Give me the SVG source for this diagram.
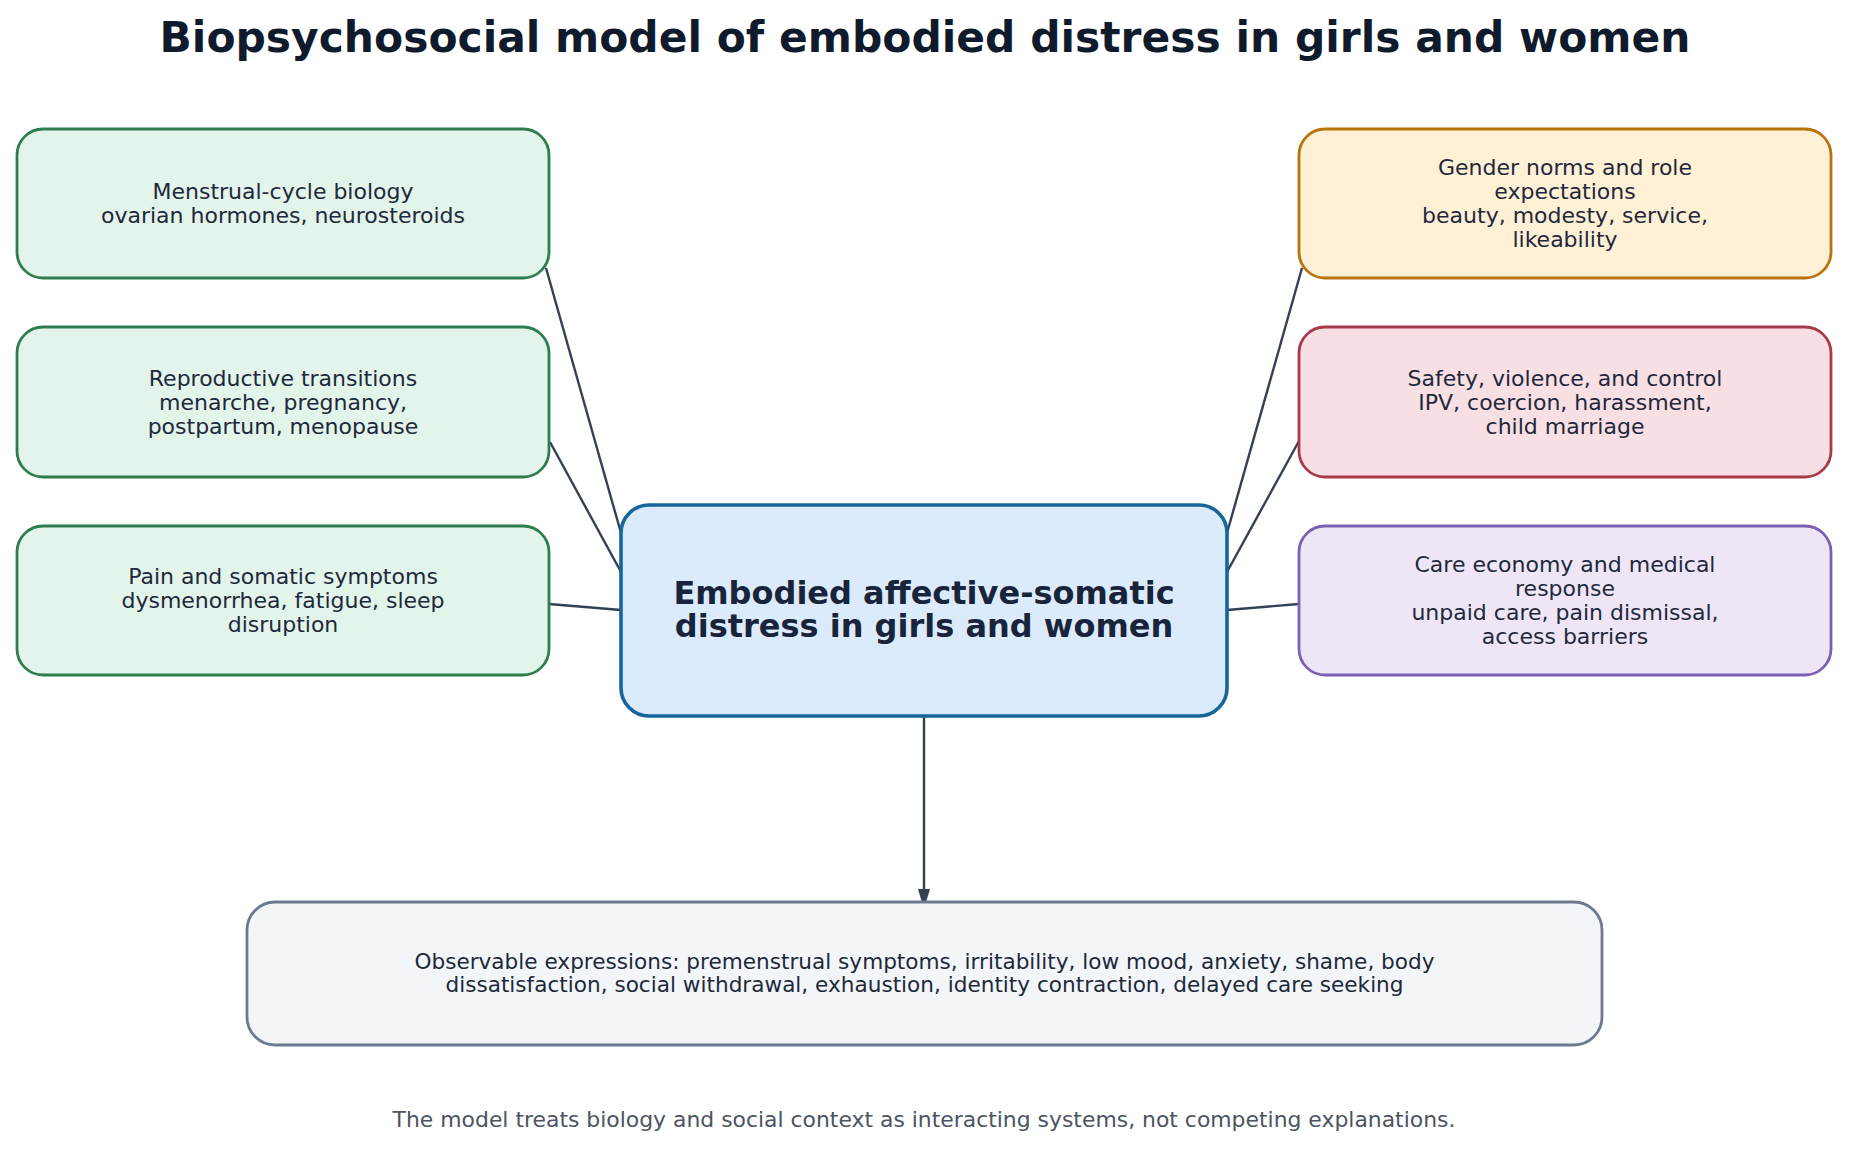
<svg xmlns="http://www.w3.org/2000/svg" width="1856" height="1155" viewBox="0 0 1856 1155">
<style>
text{font-family:"DejaVu Sans","Liberation Sans",sans-serif;text-anchor:middle;fill:#1e293b}
.title{font-size:42.4px;font-weight:bold;fill:#0f1b2d}
.t{font-size:22px}
.bt{font-size:21.6px}
.ct{font-size:32px;font-weight:bold;fill:#17243a}
.foot{font-size:21.9px;fill:#4b5563}
.bio{fill:#e3f4ea;stroke:#2e7d4f;stroke-width:2.8}
.gen{fill:#fff0d6;stroke:#b8730a;stroke-width:2.8}
.saf{fill:#f8dfe3;stroke:#a8394b;stroke-width:2.8}
.car{fill:#eee6f7;stroke:#7b5fb0;stroke-width:2.8}
.cen{fill:#dcebfb;stroke:#17659a;stroke-width:3.6}
.obs{fill:#f3f6f9;stroke:#6b7a8f;stroke-width:2.8}
.ln{stroke:#334155;stroke-width:2.4;fill:none}
</style>
<defs>
<marker id="ah" viewBox="0 0 10 10" refX="10" refY="5" markerWidth="5" markerHeight="5.5" orient="auto" markerUnits="strokeWidth">
<path d="M0,0 L10,3 L10,7 L0,10 z" fill="#334155"/>
</marker>
</defs>
<rect width="1856" height="1155" fill="#ffffff"/>
<text class="title" x="925" y="52">Biopsychosocial model of embodied distress in girls and women</text>

<g id="connectors">
<line class="ln" x1="546" y1="268" x2="621" y2="533"/>
<line class="ln" x1="550" y1="442" x2="621" y2="572"/>
<line class="ln" x1="549" y1="604" x2="621" y2="610"/>
<line class="ln" x1="1302" y1="268" x2="1227" y2="533"/>
<line class="ln" x1="1299" y1="441" x2="1227" y2="572"/>
<line class="ln" x1="1299" y1="604" x2="1227" y2="610"/>
<line class="ln" x1="924" y1="717" x2="924" y2="901" marker-end="url(#ah)"/>
</g>

<g id="n-menstrual">
<rect class="bio" x="17" y="129" width="532" height="149" rx="26"/>
<text class="t" x="283" y="198.5">Menstrual-cycle biology</text>
<text class="t" x="283" y="222.5">ovarian hormones, neurosteroids</text>
</g>
<g id="n-reproductive">
<rect class="bio" x="17" y="327" width="532" height="150" rx="26"/>
<text class="t" x="283" y="385.5">Reproductive transitions</text>
<text class="t" x="283" y="409.5">menarche, pregnancy,</text>
<text class="t" x="283" y="433.5">postpartum, menopause</text>
</g>
<g id="n-pain">
<rect class="bio" x="17" y="526" width="532" height="149" rx="26"/>
<text class="t" x="283" y="584">Pain and somatic symptoms</text>
<text class="t" x="283" y="608">dysmenorrhea, fatigue, sleep</text>
<text class="t" x="283" y="632">disruption</text>
</g>

<g id="n-gender">
<rect class="gen" x="1299" y="129" width="532" height="149" rx="26"/>
<text class="t" x="1565" y="174.5">Gender norms and role</text>
<text class="t" x="1565" y="198.5">expectations</text>
<text class="t" x="1565" y="222.5">beauty, modesty, service,</text>
<text class="t" x="1565" y="246.5">likeability</text>
</g>
<g id="n-safety">
<rect class="saf" x="1299" y="327" width="532" height="150" rx="26"/>
<text class="t" x="1565" y="385.5">Safety, violence, and control</text>
<text class="t" x="1565" y="409.5">IPV, coercion, harassment,</text>
<text class="t" x="1565" y="433.5">child marriage</text>
</g>
<g id="n-care">
<rect class="car" x="1299" y="526" width="532" height="149" rx="26"/>
<text class="t" x="1565" y="572">Care economy and medical</text>
<text class="t" x="1565" y="596">response</text>
<text class="t" x="1565" y="620">unpaid care, pain dismissal,</text>
<text class="t" x="1565" y="644">access barriers</text>
</g>

<g id="n-center">
<rect class="cen" x="621" y="505" width="606" height="211" rx="28"/>
<text class="ct" x="924" y="604">Embodied affective-somatic</text>
<text class="ct" x="924" y="637">distress in girls and women</text>
</g>

<g id="n-observable">
<rect class="obs" x="247" y="902" width="1355" height="143" rx="28"/>
<text class="bt" x="924.5" y="968.5">Observable expressions: premenstrual symptoms, irritability, low mood, anxiety, shame, body</text>
<text class="bt" x="924.5" y="991.5">dissatisfaction, social withdrawal, exhaustion, identity contraction, delayed care seeking</text>
</g>

<text class="foot" x="924" y="1127">The model treats biology and social context as interacting systems, not competing explanations.</text>
</svg>
